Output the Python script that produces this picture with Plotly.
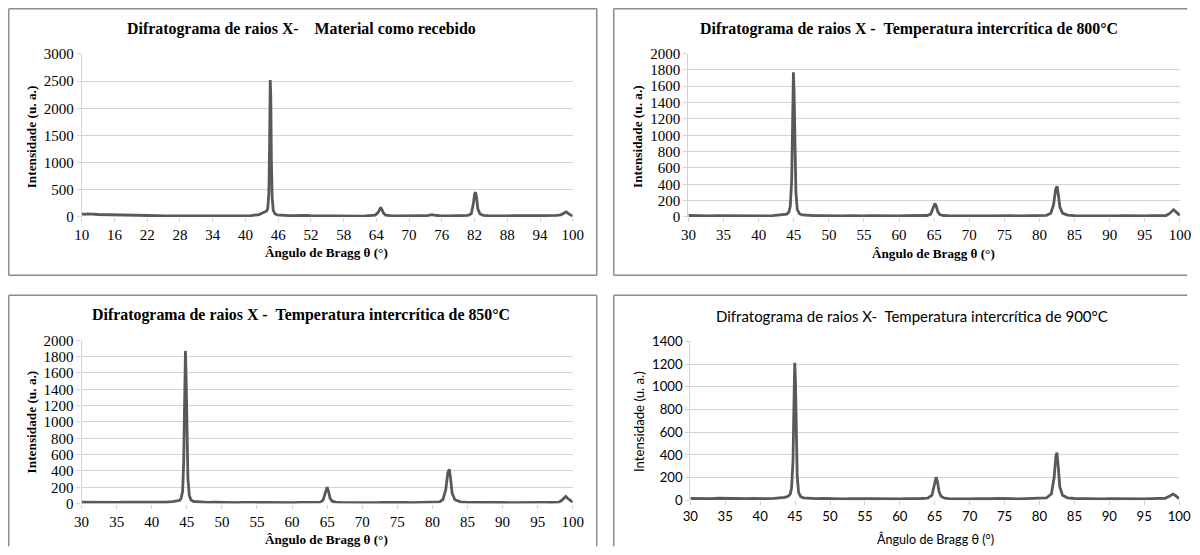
import plotly.graph_objects as go

# ---------------- data ----------------
# Panel 1: Material como recebido
x_rec = [10, 10.5, 11, 11.5, 12, 13, 14, 15, 16, 17, 18, 19, 20, 21, 22, 23, 24, 25, 26, 27, 28, 29,
         30, 31, 32, 33, 34, 35, 36, 37, 38, 39, 40, 41, 42, 42.5, 43, 43.3, 43.6, 43.9, 44.1, 44.3,
         44.45, 44.55, 44.65, 44.75, 44.9, 45.1, 45.4, 45.8, 46.5, 47, 48, 49, 50, 50.5, 51, 52, 53,
         54, 55, 56, 57, 58, 59, 60, 61, 62, 63, 63.8, 64.3, 64.6, 64.8, 65.0, 65.3, 65.7, 66.3, 67,
         68, 69, 70, 71, 72, 73, 73.8, 74.2, 74.6, 75.2, 76, 77, 78, 79, 80, 80.8, 81.4, 81.8, 82.0,
         82.2, 82.4, 82.6, 83.0, 83.6, 84.5, 85, 86, 87, 88, 89, 90, 90.5, 91, 92, 93, 94, 95, 96, 97,
         97.8, 98.3, 98.6, 98.8, 99.0, 99.3, 99.6, 100]
y_rec = [55, 48, 58, 50, 52, 45, 42, 38, 36, 34, 30, 31, 27, 26, 24, 25, 22, 21, 20, 21, 18, 19,
         17, 18, 16, 17, 15, 16, 15, 17, 16, 18, 20, 24, 32, 45, 70, 85, 90, 110, 160, 450,
         1500, 2520, 2200, 1100, 350, 120, 60, 40, 32, 28, 25, 26, 30, 35, 27, 22, 20,
         19, 18, 19, 17, 18, 17, 18, 17, 19, 22, 35, 80, 150, 175, 140, 70, 35, 22, 19,
         18, 17, 18, 17, 19, 22, 32, 42, 32, 22, 19, 18, 19, 20, 22, 30, 60, 250, 420,
         455, 330, 150, 55, 30, 24, 22, 21, 20, 21, 23, 28, 30, 26, 22, 21, 20, 21, 22, 28,
         40, 65, 85, 92, 80, 55, 35, 22]

# Panel 2: 800 °C
x_800 = [30, 31, 32, 33, 34, 35, 36, 37, 38, 39, 40, 41, 42, 43, 43.5, 44, 44.3, 44.5, 44.7, 44.85,
         44.95, 45.05, 45.15, 45.3, 45.5, 45.8, 46.2, 47, 48, 49, 50, 51, 52, 53, 54, 55, 56, 57, 58,
         59, 60, 61, 62, 63, 64, 64.5, 64.9, 65.1, 65.3, 65.5, 65.8, 66.3, 67, 68, 69, 70, 71, 72, 73,
         74, 75, 76, 77, 78, 79, 80, 81, 81.6, 82.0, 82.3, 82.5, 82.7, 82.9, 83.3, 84, 85, 86, 87, 88,
         89, 90, 91, 92, 93, 94, 95, 96, 97, 98, 98.5, 98.9, 99.1, 99.4, 99.7, 100]
y_800 = [18, 14, 17, 13, 16, 15, 12, 17, 14, 16, 15, 13, 17, 22, 25, 35, 60, 130, 450, 1300,
         1770, 1500, 800, 300, 90, 40, 25, 18, 15, 17, 14, 16, 13, 15, 12, 14, 16, 13, 15,
         14, 12, 15, 14, 16, 18, 35, 120, 165, 130, 65, 30, 18, 15, 13, 14, 12, 15, 13, 14,
         16, 13, 15, 12, 14, 13, 16, 20, 45, 150, 340, 375, 260, 120, 45, 22, 16, 14, 13, 15,
         12, 14, 13, 15, 12, 14, 13, 15, 14, 18, 40, 80, 90, 65, 40, 20]

# Panel 3: 850 °C
x_850 = [30, 31, 32, 33, 34, 35, 36, 37, 38, 39, 40, 41, 42, 43, 43.5, 44, 44.2, 44.4, 44.55, 44.7,
         44.8, 44.9, 45.0, 45.15, 45.35, 45.6, 46, 47, 48, 49, 50, 51, 52, 53, 54, 55, 56, 57, 58,
         59, 60, 61, 62, 63, 64, 64.4, 64.8, 65.0, 65.2, 65.4, 65.7, 66.2, 67, 68, 69, 70, 71, 72, 73,
         74, 75, 76, 77, 78, 79, 80, 81, 81.5, 81.9, 82.2, 82.4, 82.6, 82.8, 83.2, 84, 85, 86, 87, 88,
         89, 90, 91, 92, 93, 94, 95, 96, 97, 98, 98.4, 98.8, 99.0, 99.3, 99.6, 100]
y_850 = [17, 15, 19, 14, 16, 15, 18, 17, 16, 18, 15, 14, 17, 24, 28, 40, 70, 150, 500, 1350,
         1870, 1550, 850, 320, 100, 45, 26, 18, 15, 17, 14, 16, 13, 15, 12, 14, 16, 13, 15,
         14, 12, 15, 14, 16, 19, 40, 150, 200, 150, 70, 30, 18, 15, 13, 14, 12, 15, 13, 14,
         16, 13, 15, 12, 14, 13, 16, 22, 50, 170, 380, 420, 300, 130, 48, 22, 16, 14, 13, 15,
         12, 14, 13, 15, 12, 14, 13, 15, 14, 18, 38, 78, 88, 62, 38, 18]

# Panel 4: 900 °C
x_900 = [30, 31, 32, 33, 34, 35, 36, 37, 38, 39, 40, 41, 42, 43, 43.5, 44, 44.3, 44.5, 44.7, 44.85,
         44.95, 45.05, 45.15, 45.3, 45.5, 45.8, 46.2, 47, 48, 49, 50, 51, 52, 53, 54, 55, 56, 57, 58,
         59, 60, 61, 62, 63, 64, 64.6, 65.0, 65.2, 65.4, 65.6, 65.9, 66.4, 67, 68, 69, 70, 71, 72, 73,
         74, 75, 76, 77, 78, 79, 80, 81, 81.7, 82.1, 82.35, 82.5, 82.7, 82.9, 83.3, 84, 85, 86, 87, 88,
         89, 90, 91, 92, 93, 94, 95, 96, 97, 98, 98.6, 98.9, 99.1, 99.4, 99.7, 100]
y_900 = [16, 14, 17, 15, 18, 16, 14, 17, 15, 16, 14, 15, 17, 22, 26, 35, 55, 110, 350, 900,
         1210, 1050, 560, 210, 70, 32, 22, 17, 15, 16, 14, 15, 13, 15, 12, 14, 15, 13, 15,
         14, 12, 15, 14, 16, 19, 45, 150, 205, 160, 80, 35, 19, 15, 13, 14, 12, 15, 13, 14,
         17, 13, 15, 12, 14, 13, 16, 22, 55, 200, 390, 420, 290, 120, 45, 22, 16, 14, 13, 15,
         12, 14, 13, 15, 12, 14, 13, 15, 14, 18, 35, 50, 55, 45, 30, 15]

titles = [
    "<b>Difratograma de raios X-\u00a0\u00a0\u00a0\u00a0Material como recebido</b>",
    "<b>Difratograma de raios X -\u00a0\u00a0Temperatura intercrítica de 800°C</b>",
    "<b>Difratograma de raios X -\u00a0\u00a0Temperatura intercrítica de 850°C</b>",
    "Difratograma de raios X-\u00a0\u00a0Temperatura intercrítica de 900°C",
]
ytitles = ["<b>Intensidade (u. a.)</b>"] * 3 + ["Intensidade (u. a.)"]
xtitles = ["<b>Ângulo de Bragg θ (°)</b>"] * 3 + ["Ângulo de Bragg θ (°)"]

# ---------------- layout helpers ----------------
# Positions below are given in reference-picture pixels; the page shows the figure
# offset by the default 8 px body margin and slightly reduced, so they are converted.
W, H = 1200, 555
OFF = 8
SX, SY = 0.984, 0.971
def fx(r):
    return min(max(r / SX - OFF, 0.75), W - 0.75)
def fy(r):
    return min(max(r / SY - OFF, 0.75), H - 0.75)
def px(r):
    return fx(r) / W
def py(r):
    return 1 - fy(r) / H

LINE = "#595959"
GRID = "#d4d4d4"
BORDER = "#8c8c8c"
SERIF = "'Liberation Serif', 'Times New Roman', Times, serif"
SANS = "Lato, 'Open Sans', sans-serif"

L, T = 8, 8
R_EDGE, B_EDGE = 1300, 700   # frames that run off the page are clipped at its edge

panels = [
    dict(x=x_rec, y=y_rec, xd=(81.7, 573), yd=(216.7, 53.7), xr=[10, 100], dt=6, t0=10,
         yr=[0, 3000], ydt=500, font=SERIF,
         frame=[(L, T, 597, T), (L, 275, 597, 275), (L, T, L, 275), (597, T, 597, 275)],
         tpos=(302, 29), ytpos=(31, 137), xtpos=(327, 252)),
    dict(x=x_800, y=y_800, xd=(688.8, 1180.6), yd=(216.7, 53.3), xr=[30, 100], dt=5, t0=30,
         yr=[0, 2000], ydt=200, font=SERIF,
         frame=[(614, T, R_EDGE, T), (614, 275, R_EDGE, 275), (614, T, 614, 275)],
         tpos=(909, 29), ytpos=(638, 136), xtpos=(934, 253)),
    dict(x=x_850, y=y_850, xd=(81.5, 573), yd=(503.3, 340), xr=[30, 100], dt=5, t0=30,
         yr=[0, 2000], ydt=200, font=SERIF,
         frame=[(L, 295, 597, 295), (L, 295, L, B_EDGE), (597, 295, 597, B_EDGE)],
         tpos=(301, 315), ytpos=(31, 422), xtpos=(327, 539)),
    dict(x=x_900, y=y_900, xd=(690.7, 1179.8), yd=(500, 341), xr=[30, 100], dt=5, t0=30,
         yr=[0, 1400], ydt=200, font=SANS,
         frame=[(614, 295, R_EDGE, 295), (614, 295, 614, B_EDGE)],
         tpos=(912, 316), ytpos=(640, 421), xtpos=(936, 539)),
]

fig = go.Figure()
shapes = []
annotations = []
layout_axes = {}
for i, p in enumerate(panels):
    n = "" if i == 0 else str(i + 1)
    fig.add_trace(go.Scatter(x=p["x"], y=p["y"], mode="lines",
                             line=dict(color=LINE, width=2.8),
                             xaxis="x" + n, yaxis="y" + n, showlegend=False,
                             hoverinfo="skip"))
    is_sans = p["font"] == SANS
    tick_font = dict(family=p["font"], size=15 if not is_sans else 13.2, color="#000000")
    layout_axes["xaxis" + n] = dict(
        domain=[px(p["xd"][0]), px(p["xd"][1])], range=p["xr"], tick0=p["t0"], dtick=p["dt"],
        anchor="y" + n, showgrid=False, zeroline=False, showline=False,
        ticks="outside", ticklen=4, tickcolor=GRID, tickfont=tick_font, fixedrange=True,
        ticklabeloverflow="allow")
    layout_axes["yaxis" + n] = dict(
        domain=[py(p["yd"][0]), py(p["yd"][1])], range=p["yr"], dtick=p["ydt"],
        anchor="x" + n, showgrid=True, gridcolor=GRID, gridwidth=1.2, zeroline=False,
        showline=True, linecolor=GRID, linewidth=1.2, ticks="outside", ticklen=4,
        tickcolor=GRID, tickfont=tick_font, fixedrange=True, ticklabeloverflow="allow")
    for (a, b, c, d) in p["frame"]:
        shapes.append(dict(type="line", xref="paper", yref="paper",
                           x0=px(a), y0=py(b), x1=px(c), y1=py(d),
                           line=dict(color=BORDER, width=1.5)))
    annotations.append(dict(text=titles[i], xref="paper", yref="paper",
                            x=px(p["tpos"][0]), y=py(p["tpos"][1]), xanchor="center", yanchor="middle",
                            showarrow=False,
                            font=dict(family=p["font"], size=15.9 if not is_sans else 15, color="#000000")))
    annotations.append(dict(text=ytitles[i], xref="paper", yref="paper", textangle=-90,
                            x=px(p["ytpos"][0]), y=py(p["ytpos"][1]), xanchor="center", yanchor="middle",
                            showarrow=False,
                            font=dict(family=p["font"], size=13.3 if not is_sans else 13.2, color="#000000")))
    annotations.append(dict(text=xtitles[i], xref="paper", yref="paper",
                            x=px(p["xtpos"][0]), y=py(p["xtpos"][1]), xanchor="center", yanchor="middle",
                            showarrow=False,
                            font=dict(family=p["font"], size=13.2 if not is_sans else 12.6, color="#000000")))

fig.update_layout(width=W, height=H, margin=dict(l=0, r=0, t=0, b=0),
                  paper_bgcolor="white", plot_bgcolor="white",
                  shapes=shapes, annotations=annotations, **layout_axes)

fig.write_html("out.html", include_plotlyjs=True, config={"displayModeBar": False})
